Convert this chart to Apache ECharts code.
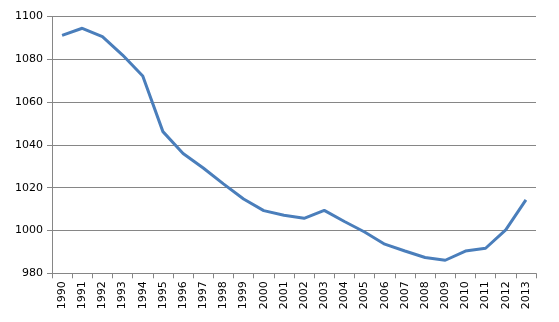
<!DOCTYPE html>
<html><head><meta charset="utf-8">
<script src="https://cdn.jsdelivr.net/npm/echarts@6/dist/echarts.min.js"></script>
<style>html,body{margin:0;padding:0;background:#fff}#c{width:559px;height:322px}</style>
</head><body><div id="c"></div>
<script>
const years = ['1990','1991','1992','1993','1994','1995','1996','1997','1998','1999','2000','2001','2002','2003','2004','2005','2006','2007','2008','2009','2010','2011','2012','2013'];
const values = [1091.2,1094.5,1090.6,1082,1072.2,1046.2,1036,1029.2,1021.8,1014.7,1009.3,1007.1,1005.7,1009.4,1004.2,999.3,993.6,990.4,987.4,986.1,990.4,991.7,1000.3,1014.3];
const yTicks = {min: 980, max: 1100, interval: 20};

const chart = echarts.init(document.getElementById('c'), null, {renderer: 'canvas'});
chart.setOption({
  animation: false,
  grid: {left: 52, right: 23, top: 16.5, bottom: 48.7, containLabel: false},
  xAxis: {
    type: 'category', data: years, boundaryGap: true,
    axisLine: {lineStyle: {color: '#868686', width: 1}},
    axisTick: {show: true, length: 5, lineStyle: {color: '#868686'}},
    axisLabel: {rotate: 90, color: '#000', fontFamily: 'DejaVu Sans', fontSize: 11, margin: 8, interval: 0}
  },
  yAxis: {
    type: 'value', min: yTicks.min, max: yTicks.max, interval: yTicks.interval,
    axisLine: {show: true, lineStyle: {color: '#868686', width: 1}},
    axisTick: {show: true, length: 5, lineStyle: {color: '#868686'}},
    splitLine: {show: true, lineStyle: {color: '#868686', width: 1}},
    axisLabel: {color: '#000', fontFamily: 'DejaVu Sans', fontSize: 11, margin: 9, formatter: v => String(v)}
  },
  series: [{
    type: 'line', data: values, symbol: 'none', smooth: false,
    lineStyle: {color: '#4A7EBB', width: 3}
  }]
});
</script></body></html>
